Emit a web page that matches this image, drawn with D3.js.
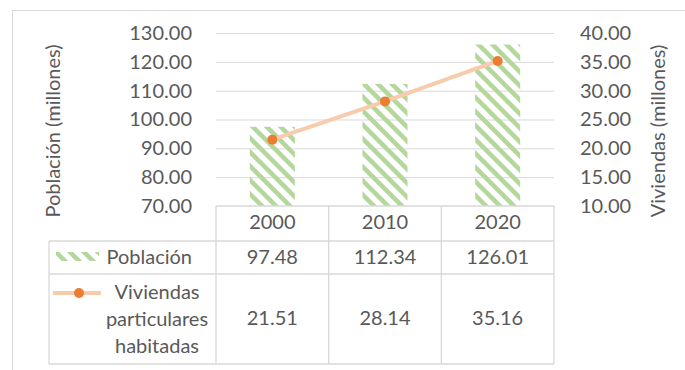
<!DOCTYPE html>
<html>
<head>
<meta charset="utf-8">
<script src="https://cdn.jsdelivr.net/npm/d3@7"></script>
<style>
    body { margin: 0; background: #fff; }
    svg text { font-family: Lato, "Open Sans", sans-serif; fill: #595959; }
</style>
</head>
<body>
<svg width="685" height="370"></svg>
<script>
// chart data
const years = ['2000', '2010', '2020'];
const poblacion = [97.48, 112.34, 126.01];
const viviendas = [21.51, 28.14, 35.16];
const leftTicks = [70, 80, 90, 100, 110, 120, 130];
const rightTicks = [10, 15, 20, 25, 30, 35, 40];
const seriesNames = ['Población', 'Viviendas particulares habitadas'];

(function () {
const svg = d3.select('svg');
const fontSize = 20;
const gridColor = '#d9d9d9';

// plot area
const plotLeft = 216, plotRight = 554, plotTop = 33, plotBottom = 206;

// outer frame
svg.append('rect')
    .attr('x', 12.5).attr('y', 10.5)
    .attr('width', 700).attr('height', 400)
    .attr('fill', 'none')
    .attr('stroke', gridColor);

// hatch pattern for bars
const defs = svg.append('defs');
const pat = defs.append('pattern')
    .attr('id', 'hatch')
    .attr('patternUnits', 'userSpaceOnUse')
    .attr('width', 14).attr('height', 14);
pat.append('path')
    .attr('d', 'M-4,10 L4,18 M0,0 L14,14 M10,-4 L18,4')
    .attr('stroke', '#b4d89c')
    .attr('stroke-width', 4.5);

const xCol = d3.scaleBand().domain(years).range([plotLeft, plotRight]);
const xBar = d3.scaleBand().domain(years).range([plotLeft, plotRight])
    .paddingInner(0.6).paddingOuter(0.3);

const yLeft = d3.scaleLinear().domain([70, 130]).range([plotBottom, plotTop]);
const yRight = d3.scaleLinear().domain([10, 40]).range([plotBottom, plotTop]);

// gridlines
svg.append('g')
    .attr('class', 'grid')
    .attr('transform', `translate(${plotLeft}, 0)`)
    .call(d3.axisLeft(yLeft).tickValues(leftTicks.slice(1)).tickSize(-(plotRight - plotLeft)).tickFormat(''))
    .call(g => g.select('.domain').remove())
    .call(g => g.selectAll('line').attr('stroke', gridColor));

// left axis labels
const leftAxis = svg.append('g')
    .attr('transform', 'translate(192, 0)')
    .call(d3.axisLeft(yLeft).tickValues(leftTicks).tickSize(0).tickPadding(0).tickFormat(d3.format('.2f')));
leftAxis.select('.domain').remove();
leftAxis.attr('font-family', null).attr('font-size', null);
leftAxis.selectAll('text')
    .style('font-size', fontSize + 'px')
    .attr('fill', '#595959');

// right axis labels
const rightAxis = svg.append('g')
    .attr('transform', 'translate(580, 0)')
    .call(d3.axisRight(yRight).tickValues(rightTicks).tickSize(0).tickPadding(0).tickFormat(d3.format('.2f')));
rightAxis.select('.domain').remove();
rightAxis.attr('font-family', null).attr('font-size', null);
rightAxis.selectAll('text')
    .style('font-size', fontSize + 'px')
    .attr('fill', '#595959');

// axis titles
svg.append('text')
    .attr('transform', 'translate(60, 131) rotate(-90)')
    .attr('text-anchor', 'middle')
    .style('font-size', fontSize + 'px')
    .text('Población (millones)');

svg.append('text')
    .attr('transform', 'translate(665, 131) rotate(-90)')
    .attr('text-anchor', 'middle')
    .style('font-size', fontSize + 'px')
    .text('Viviendas (millones)');

// bars
svg.append('g')
    .selectAll('rect')
    .data(years)
    .enter()
    .append('rect')
    .attr('x', (d) => xBar(d))
    .attr('y', (d, i) => yLeft(poblacion[i]))
    .attr('width', xBar.bandwidth())
    .attr('height', (d, i) => plotBottom - yLeft(poblacion[i]))
    .attr('fill', 'url(#hatch)');

// line + markers
const line = d3.line()
    .x((d, i) => xCol(years[i]) + xCol.bandwidth() / 2)
    .y((d) => yRight(d));

svg.append('path')
    .datum(viviendas)
    .attr('d', line)
    .attr('fill', 'none')
    .attr('stroke', '#f8cbad')
    .attr('stroke-width', 4);

svg.append('g')
    .selectAll('circle')
    .data(viviendas)
    .enter()
    .append('circle')
    .attr('cx', (d, i) => xCol(years[i]) + xCol.bandwidth() / 2)
    .attr('cy', (d) => yRight(d))
    .attr('r', 5)
    .attr('fill', '#ed7d31');

// data table
const tableLeft = 49;
const rowTops = [206, 241, 274, 364];
const table = svg.append('g')
    .attr('stroke', gridColor)
    .attr('stroke-width', 1.3)
    .attr('fill', 'none');

// horizontal rules
table.append('line').attr('x1', plotLeft).attr('x2', plotRight).attr('y1', rowTops[0]).attr('y2', rowTops[0]);
rowTops.slice(1).forEach(function (y) {
    table.append('line').attr('x1', tableLeft).attr('x2', plotRight).attr('y1', y).attr('y2', y);
});
// vertical rules
table.append('line').attr('x1', tableLeft).attr('x2', tableLeft).attr('y1', rowTops[1]).attr('y2', rowTops[3]);
years.concat(['end']).forEach(function (c, i) {
    const x = i < years.length ? xCol(c) : plotRight;
    table.append('line').attr('x1', x).attr('x2', x).attr('y1', rowTops[0]).attr('y2', rowTops[3]);
});

const cellText = svg.append('g')
    .attr('text-anchor', 'middle')
    .style('font-size', fontSize + 'px');

years.forEach(function (c, i) {
    const cx = xCol(c) + xCol.bandwidth() / 2;
    cellText.append('text').attr('x', cx).attr('y', 229).text(c);
    cellText.append('text').attr('x', cx).attr('y', 264).text(poblacion[i].toFixed(2));
    cellText.append('text').attr('x', cx).attr('y', 325).text(viviendas[i].toFixed(2));
});

// legend keys in table
svg.append('rect')
    .attr('x', 56).attr('y', 252)
    .attr('width', 43).attr('height', 9)
    .attr('fill', 'url(#hatch)');

svg.append('text')
    .attr('x', 192).attr('y', 264)
    .attr('text-anchor', 'end')
    .style('font-size', fontSize + 'px')
    .text(seriesNames[0]);

svg.append('line')
    .attr('x1', 53).attr('x2', 101)
    .attr('y1', 293).attr('y2', 293)
    .attr('stroke', '#f8cbad')
    .attr('stroke-width', 4);
svg.append('circle')
    .attr('cx', 79).attr('cy', 293).attr('r', 5)
    .attr('fill', '#ed7d31');

const vivLines = ['Viviendas', 'particulares', 'habitadas'];
svg.append('text')
    .attr('text-anchor', 'middle')
    .style('font-size', fontSize + 'px')
    .selectAll('tspan')
    .data(vivLines)
    .enter()
    .append('tspan')
    .attr('x', 157)
    .attr('y', (d, i) => 299 + i * 27)
    .text((d) => d);
})();
</script>
</body>
</html>
